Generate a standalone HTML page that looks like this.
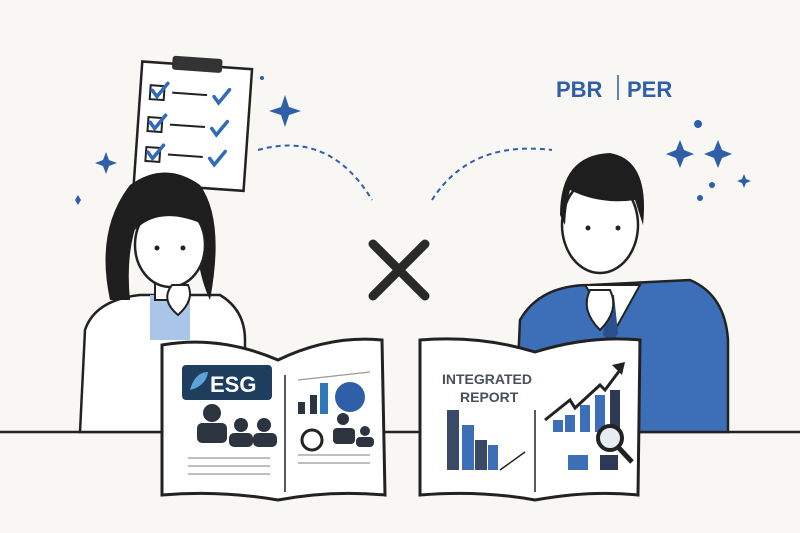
<!DOCTYPE html>
<html><head><meta charset="utf-8"><style>
html,body{margin:0;padding:0;background:#f8f7f4;}
svg{display:block;}
text{font-family:"Liberation Sans",sans-serif;}
</style></head><body>
<svg width="800" height="533" viewBox="0 0 800 533" xmlns="http://www.w3.org/2000/svg">
<rect width="800" height="533" fill="#f8f7f4"/>
<!-- table line -->
<line x1="0" y1="432" x2="800" y2="432" stroke="#222" stroke-width="2.5"/>
<!-- big X -->
<path d="M373 244 L425 296 M425 244 L373 296" stroke="#2a2a2a" stroke-width="9" stroke-linecap="round"/>
<!-- dashed arcs -->
<path d="M258 150 Q330 130 372 200" fill="none" stroke="#2f5fa8" stroke-width="2" stroke-dasharray="5,4"/>
<path d="M432 200 Q470 140 552 150" fill="none" stroke="#2f5fa8" stroke-width="2" stroke-dasharray="5,4"/>
<!-- clipboard -->
<g transform="rotate(4 190 125)">
<rect x="138" y="65" width="110" height="122" fill="#fff" stroke="#222" stroke-width="2.5"/>
<rect x="168" y="57" width="50" height="14" rx="3" fill="#333"/>
<g stroke="#222" stroke-width="2" fill="none">
<rect x="148" y="88" width="14" height="14"/><rect x="148" y="120" width="14" height="14"/><rect x="148" y="150" width="14" height="14"/>
<line x1="170" y1="94" x2="205" y2="94"/><line x1="170" y1="126" x2="205" y2="126"/><line x1="170" y1="156" x2="205" y2="156"/>
</g>
<g stroke="#2f6bb8" stroke-width="3.5" fill="none" stroke-linecap="round">
<path d="M150 93 l5 6 l10 -14"/><path d="M150 125 l5 6 l10 -14"/><path d="M150 155 l5 6 l10 -14"/>
<path d="M212 95 l5 6 l10 -14"/><path d="M212 127 l5 6 l10 -14"/><path d="M212 157 l5 6 l10 -14"/>
</g>
</g>
<!-- sparkles -->
<g fill="#2f5fa8">
<path d="M285 95 l4 12 l12 4 l-12 4 l-4 12 l-4 -12 l-12 -4 l12 -4z"/>
<path d="M106 152 l3 8 l8 3 l-8 3 l-3 8 l-3 -8 l-8 -3 l8 -3z"/>
<path d="M680 140 l4 10 l10 4 l-10 4 l-4 10 l-4 -10 l-10 -4 l10 -4z"/>
<path d="M718 140 l4 10 l10 4 l-10 4 l-4 10 l-4 -10 l-10 -4 l10 -4z"/>
<circle cx="698" cy="124" r="4"/><circle cx="712" cy="185" r="3"/><circle cx="700" cy="198" r="3"/><circle cx="262" cy="78" r="2"/>
<path d="M744 174 l2 5 l5 2 l-5 2 l-2 5 l-2 -5 l-5 -2 l5 -2z"/>
<path d="M78 195 l3 5 l-3 5 l-3 -5z"/>
</g>
<text x="556" y="97" font-size="22" font-weight="bold" fill="#2f5fa8">PBR</text>
<line x1="618" y1="75" x2="618" y2="100" stroke="#2f5fa8" stroke-width="1.5"/>
<text x="627" y="97" font-size="22" font-weight="bold" fill="#2f5fa8">PER</text>
<!-- woman -->
<path d="M80 432 L85 330 Q95 300 140 295 L220 295 Q245 310 245 340 L245 432Z" fill="#fff" stroke="#222" stroke-width="2.5"/>
<path d="M150 295 L150 340 L190 340 L190 295Z" fill="#a9c6e8"/>
<path d="M155 275 L155 300 L185 300 L185 275Z" fill="#fff" stroke="#222" stroke-width="2"/>
<path d="M110 300 Q95 230 130 185 Q165 160 200 185 Q225 220 210 300 Q200 280 195 240 Q170 220 140 215 Q125 250 130 300Z" fill="#1e1e1e"/>
<ellipse cx="170" cy="245" rx="35" ry="42" fill="#fff" stroke="#222" stroke-width="2.5"/>
<path d="M135 230 Q160 205 205 225 Q200 195 170 192 Q140 195 135 230Z" fill="#1e1e1e"/>
<circle cx="157" cy="248" r="2.5" fill="#222"/><circle cx="183" cy="248" r="2.5" fill="#222"/>
<path d="M172 285 Q160 300 178 315 Q195 300 188 285Z" fill="#fff" stroke="#222" stroke-width="2"/>
<!-- man -->
<path d="M515 432 L520 320 Q540 285 590 285 L690 280 Q725 295 728 340 L728 432Z" fill="#3d6fb8" stroke="#222" stroke-width="2.5"/>
<path d="M585 285 L615 330 L640 285Z" fill="#fff" stroke="#222" stroke-width="2"/>
<path d="M608 295 L603 335 L612 345 L618 333 L614 295Z" fill="#2a4f8a"/>
<ellipse cx="600" cy="225" rx="38" ry="48" fill="#fff" stroke="#222" stroke-width="2.5"/>
<path d="M560 215 Q560 155 610 153 Q650 160 643 225 L635 200 Q600 205 570 190 Q566 205 565 225Z" fill="#1e1e1e"/>
<circle cx="588" cy="228" r="2.5" fill="#222"/><circle cx="618" cy="228" r="2.5" fill="#222"/>
<path d="M590 290 Q580 310 600 330 Q620 310 610 290Z" fill="#fff" stroke="#222" stroke-width="2"/>
<!-- left book -->
<path d="M162 345 Q220 335 278 360 Q330 335 382 340 L385 495 Q330 490 278 500 Q220 490 162 495Z" fill="#fff" stroke="#222" stroke-width="3"/>
<line x1="285" y1="375" x2="285" y2="492" stroke="#222" stroke-width="1.5"/>
<rect x="182" y="365" width="90" height="35" rx="4" fill="#1f3e5e"/>
<text x="210" y="392" font-size="22" font-weight="bold" fill="#fff">ESG</text>
<path d="M190 390 q5 -18 18 -18 q-2 14 -18 18z" fill="#5fa2d8"/>
<g fill="#2c3440">
<circle cx="212" cy="413" r="9"/><rect x="197" y="423" width="30" height="20" rx="5"/>
<circle cx="241" cy="425" r="7"/><rect x="229" y="433" width="24" height="14" rx="5"/>
<circle cx="264" cy="425" r="7"/><rect x="253" y="433" width="24" height="14" rx="5"/>
<rect x="298" y="402" width="7" height="12"/><rect x="310" y="395" width="7" height="19"/>
<circle cx="343" cy="419" r="6"/><rect x="333" y="428" width="22" height="16" rx="4"/>
<circle cx="365" cy="431" r="5"/><rect x="356" y="437" width="18" height="10" rx="4"/>
</g>
<rect x="320" y="383" width="8" height="31" fill="#2f78b8"/>
<circle cx="350" cy="397" r="15" fill="#2f5fa8"/>
<circle cx="312" cy="440" r="10" fill="none" stroke="#222" stroke-width="3"/>
<g stroke="#999" stroke-width="1.3"><line x1="188" y1="458" x2="270" y2="458"/><line x1="188" y1="466" x2="270" y2="466"/><line x1="188" y1="474" x2="270" y2="474"/><line x1="298" y1="455" x2="370" y2="455"/><line x1="298" y1="463" x2="370" y2="463"/><line x1="298" y1="380" x2="370" y2="372"/></g>
<!-- right book -->
<path d="M420 340 Q480 335 535 352 Q590 335 640 340 L638 495 Q590 490 535 500 Q480 490 420 495Z" fill="#fff" stroke="#222" stroke-width="3"/>
<line x1="535" y1="410" x2="535" y2="492" stroke="#222" stroke-width="1.5"/>
<text x="442" y="384" font-size="14" font-weight="bold" fill="#4a4f5a">INTEGRATED</text>
<text x="460" y="402" font-size="14" font-weight="bold" fill="#4a4f5a">REPORT</text>
<g fill="#3a4a66"><rect x="447" y="410" width="12" height="60"/><rect x="462" y="425" width="12" height="45" fill="#3d6fb8"/><rect x="475" y="440" width="12" height="30"/><rect x="488" y="445" width="10" height="25" fill="#3d6fb8"/></g>
<line x1="500" y1="470" x2="525" y2="452" stroke="#222" stroke-width="1.5"/>
<g fill="#3d6fb8"><rect x="553" y="420" width="10" height="12"/><rect x="565" y="415" width="10" height="17"/><rect x="580" y="405" width="10" height="27"/><rect x="595" y="395" width="10" height="37"/><rect x="610" y="390" width="10" height="42" fill="#2c3a55"/></g>
<path d="M545 420 L570 400 L575 408 L600 385 L605 390 L620 370" fill="none" stroke="#222" stroke-width="3"/>
<path d="M612 365 L625 362 L622 375Z" fill="#222"/>
<circle cx="610" cy="438" r="12" fill="#e8ecf2" stroke="#222" stroke-width="4"/>
<line x1="618" y1="447" x2="632" y2="462" stroke="#222" stroke-width="5"/>
<rect x="568" y="455" width="20" height="15" fill="#3d6fb8"/><rect x="600" y="455" width="18" height="15" fill="#2c3a55"/>
</svg>
</body></html>
